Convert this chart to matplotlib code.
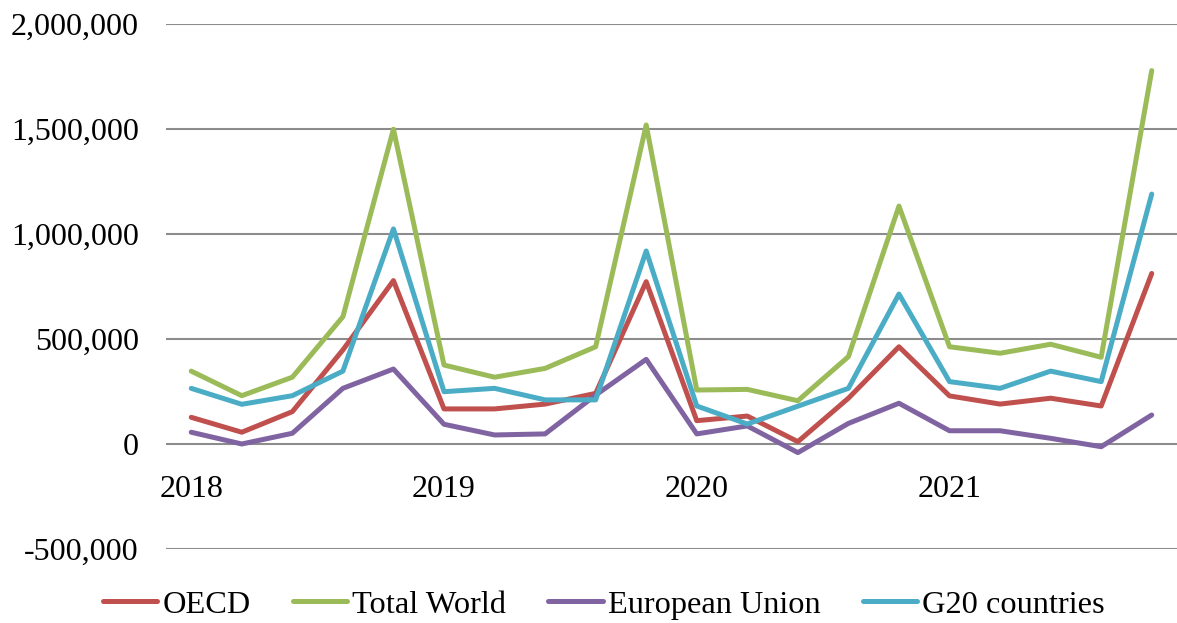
import matplotlib.pyplot as plt
from matplotlib.ticker import FuncFormatter

# five points per year: four quarters and the year total
years = ["2018", "2019", "2020", "2021"]
n_points = 20

oecd = [127000, 56000, 154000, 448000, 778000,
        167000, 167000, 190000, 241000, 773000,
        111000, 133000, 11000, 218000, 463000,
        229000, 190000, 218000, 181000, 812000]
total_world = [347000, 230000, 318000, 606000, 1499000,
               376000, 318000, 360000, 463000, 1519000,
               257000, 260000, 206000, 416000, 1133000,
               463000, 432000, 475000, 413000, 1778000]
european_union = [56000, 0, 51000, 265000, 357000,
                  94000, 43000, 48000, 233000, 403000,
                  48000, 86000, -41000, 98000, 194000,
                  63000, 63000, 27000, -13000, 138000]
g20 = [265000, 189000, 230000, 347000, 1024000,
       249000, 265000, 210000, 210000, 919000,
       181000, 95000, 180000, 265000, 714000,
       297000, 265000, 347000, 297000, 1190000]

series = [
    ("OECD", oecd, "#C0504D"),
    ("Total World", total_world, "#9BBB59"),
    ("European Union", european_union, "#8064A2"),
    ("G20 countries", g20, "#4BACC6"),
]

plt.rcParams["font.family"] = ["Liberation Serif", "DejaVu Serif"]

fig = plt.figure(figsize=(11.77, 6.23), dpi=100)
ax = fig.add_axes([0.141, 0.1188, 0.859, 0.8427])

x = list(range(n_points))
for name, values, color in series:
    ax.plot(x, values, color=color, lw=3.6, label=name,
            solid_joinstyle="round", solid_capstyle="round")

ax.set_xlim(-0.5, n_points - 0.5)
ax.set_ylim(-500000, 2000000)
ax.set_yticks(range(-500000, 2000001, 500000))
ax.yaxis.set_major_formatter(FuncFormatter(lambda v, _: f"{int(v):,}"))
ax.grid(axis="y", color="#8c8c8c", lw=1.5)
ax.set_axisbelow(True)

ax.set_xticks([0, 5, 10, 15])
ax.set_xticklabels(years)
ax.spines["bottom"].set_position(("data", 0))
for side in ["top", "right", "left", "bottom"]:
    ax.spines[side].set_visible(False)
ax.tick_params(axis="x", length=0, pad=22, labelsize=23)
ax.tick_params(axis="y", length=0, pad=19.5, labelsize=23)

fig.legend(loc="center", bbox_to_anchor=(0.513, 0.029), ncol=4,
           frameon=False, fontsize=23.3, handlelength=1.68, handletextpad=0.16,
           columnspacing=1.3, borderpad=0, borderaxespad=0)

fig.savefig("out.png", dpi=100)
